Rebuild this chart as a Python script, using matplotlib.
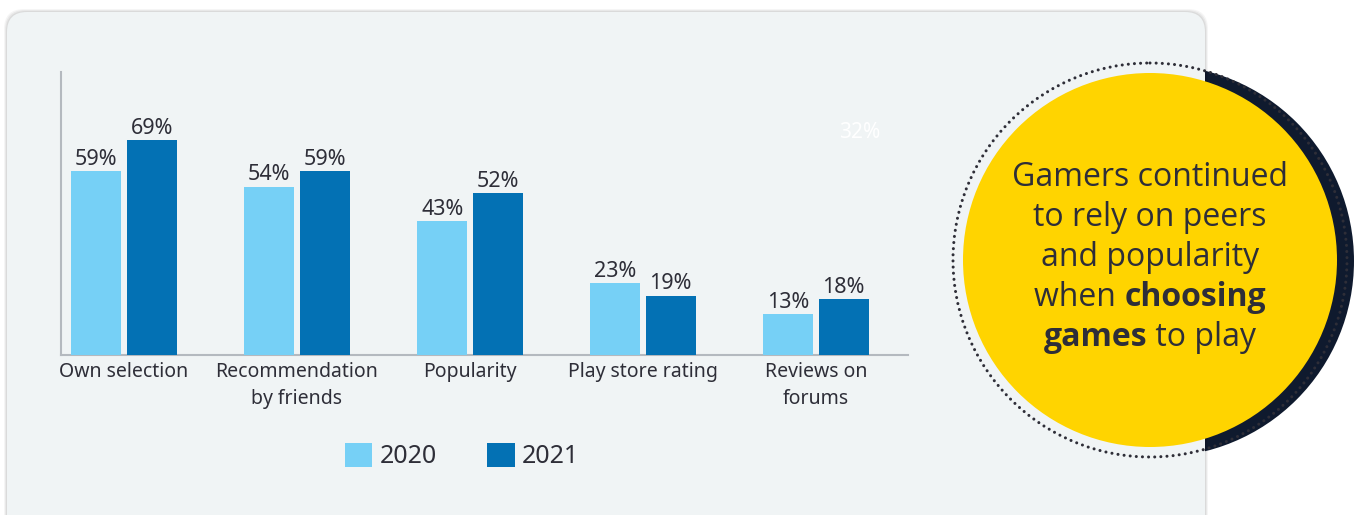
import matplotlib
matplotlib.use("Agg")
import matplotlib.pyplot as plt
from matplotlib.patches import FancyBboxPatch, Circle, Patch
from matplotlib import font_manager
import numpy as np

categories = ["Own selection", "Recommendation\nby friends", "Popularity",
              "Play store rating", "Reviews on\nforums"]
values_2020 = [59, 54, 43, 23, 13]
values_2021 = [69, 59, 52, 19, 18]
series_names = ["2020", "2021"]

C20 = "#76d0f6"
C21 = "#0371b4"
TXT = "#2e2e38"
FONT = ["Noto Sans", "DejaVu Sans"]
plt.rcParams["font.family"] = FONT

bold_ok = None
for fam in ["Open Sans", "Lato", "Noto Sans", "DejaVu Sans"]:
    try:
        p = font_manager.findfont(font_manager.FontProperties(family=fam, weight="bold"),
                                  fallback_to_default=False)
        if "old" in p:
            bold_ok = fam
            break
    except Exception:
        pass
CFONT = bold_ok or "DejaVu Sans"

W, H = 1359, 515
fig = plt.figure(figsize=(W / 100, H / 100), dpi=100)
fig.patch.set_facecolor("white")

bg = fig.add_axes([0, 0, 1, 1])
bg.set_xlim(0, W)
bg.set_ylim(H, 0)
bg.axis("off")

bg.add_patch(Circle((1158, 261), 196, facecolor="#0f1a2e", edgecolor="none", zorder=1))
for i, a in enumerate([0.04, 0.05, 0.06]):
    d = 3 - i
    bg.add_patch(FancyBboxPatch((7 + 20 - d, 12 + 20 - d), 1198 - 40 + 2 * d, 560 - 40 + 2 * d,
                                boxstyle="round,pad=20,rounding_size=20",
                                facecolor="black", alpha=a, edgecolor="none", zorder=2))
bg.add_patch(FancyBboxPatch((7 + 20, 12 + 20), 1198 - 40, 560 - 40,
                            boxstyle="round,pad=20,rounding_size=20",
                            facecolor="#f0f4f5", edgecolor="none", zorder=3))
dc = Circle((1150, 260), 197, facecolor="none", edgecolor="#2e2e38", linewidth=2.2,
            linestyle=(0, (0.01, 2.0)), zorder=4)
dc.set_capstyle("round")
bg.add_patch(dc)
bg.add_patch(Circle((1150, 260), 187, facecolor="#ffd400", edgecolor="none", zorder=5))

bg.text(860, 133, "32%", color="white", fontsize=15, ha="center", va="center", zorder=6)

CFS = 23
ys = [178, 218, 258]
for t, y in zip(["Gamers continued", "to rely on peers", "and popularity"], ys):
    bg.text(1150, y, t, fontsize=CFS, color=TXT, family=CFONT, ha="center", va="center", zorder=7)


def mixed_line(y, parts):
    r = fig.canvas.get_renderer()
    objs = []
    total = 0
    for t, w in parts:
        o = bg.text(0, y, t, fontsize=CFS, color=TXT, family=CFONT, fontweight=w,
                    ha="left", va="center", zorder=7)
        bb = o.get_window_extent(renderer=r)
        objs.append((o, bb.width))
        total += bb.width
    xx = 1150 - total / 2
    for o, w in objs:
        o.set_x(xx)
        xx += w


mixed_line(298, [("when ", "normal"), ("choosing", "bold")])
mixed_line(338, [("games", "bold"), (" to play", "normal")])

left, right, top, bottom = 61, 908, 72, 355
ax = fig.add_axes([left / W, 1 - bottom / H, (right - left) / W, (bottom - top) / H])
ax.set_facecolor("none")
x = np.arange(len(categories))
off, bw = 0.16, 0.29
b1 = ax.bar(x - off, values_2020, bw, color=C20, label=series_names[0], zorder=3)
b2 = ax.bar(x + off, values_2021, bw, color=C21, label=series_names[1], zorder=3)
for bars, vals in [(b1, values_2020), (b2, values_2021)]:
    for b, v in zip(bars, vals):
        ax.annotate(f"{v}%", (b.get_x() + b.get_width() / 2, v), xytext=(0, 1),
                    textcoords="offset points", ha="center", va="bottom",
                    fontsize=15.5, color=TXT)
ax.set_xlim(-0.364, 4.532)
ax.set_ylim(0, 90.8)
ax.set_yticks([])
ax.set_xticks(x)
ax.set_xticklabels(categories, fontsize=14, color=TXT, linespacing=1.45)
ax.tick_params(axis="x", length=0, pad=5)
for s in ["top", "right"]:
    ax.spines[s].set_visible(False)
for s in ["left", "bottom"]:
    ax.spines[s].set_color("#b4b9bf")
    ax.spines[s].set_linewidth(1.5)

handles = [Patch(facecolor=C20, label="2020"), Patch(facecolor=C21, label="2021")]
fig.legend(handles=handles, loc="center", bbox_to_anchor=(462 / W, 1 - 456 / H),
           ncol=2, frameon=False, fontsize=18, handlelength=1.1, handleheight=1.1,
           handletextpad=0.3, columnspacing=2.0, labelcolor=TXT)

fig.savefig("out.png", dpi=100)
